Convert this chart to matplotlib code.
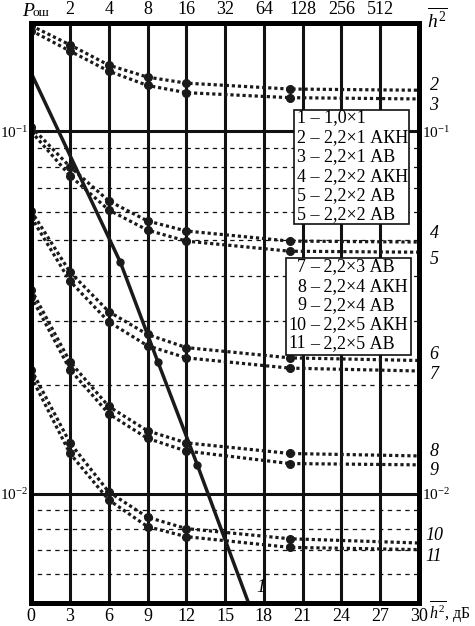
import matplotlib
matplotlib.use('Agg')
import matplotlib.pyplot as plt
from matplotlib.patches import Rectangle

plt.rcParams['font.family'] = ['Liberation Serif', 'DejaVu Serif']
plt.rcParams['mathtext.fontset'] = 'custom'
plt.rcParams['mathtext.rm'] = 'Liberation Serif'
plt.rcParams['mathtext.it'] = 'Liberation Serif:italic'

# ---------------- data ----------------
snr_db = [0, 3, 6, 9, 12, 20, 30]
c2 = [0.196, 0.1735, 0.1525, 0.1413, 0.136, 0.131, 0.130]
c3 = [0.190, 0.1668, 0.1468, 0.134, 0.128, 0.124, 0.123]
c4 = [0.103, 0.0799, 0.0643, 0.0566, 0.0531, 0.0498, 0.0495]
c5 = [0.100, 0.0755, 0.0607, 0.0534, 0.0498, 0.0467, 0.0464]
c6 = [0.0603, 0.0409, 0.0318, 0.0275, 0.0253, 0.0237, 0.0233]
c7 = [0.058, 0.0386, 0.0298, 0.0256, 0.0237, 0.0222, 0.0218]
c8 = [0.0366, 0.0231, 0.0174, 0.0149, 0.0138, 0.0129, 0.0127]
c9 = [0.035, 0.022, 0.0166, 0.0142, 0.0131, 0.0121, 0.0120]
c10 = [0.022, 0.0138, 0.0101, 0.0086, 0.0080, 0.0075, 0.0073]
c11 = [0.021, 0.0129, 0.0096, 0.0081, 0.0076, 0.0071, 0.0070]
curves = [c2, c3, c4, c5, c6, c7, c8, c9, c10, c11]

line1_db = [0, 6.9, 9.8, 12.85, 16.8]
line1_val = [0.145, 0.0435, 0.0231, 0.0120, 0.005]

x_ticks = [0, 3, 6, 9, 12, 15, 18, 21, 24, 27, 30]
top_ticks = [3, 6, 9, 12, 15, 18, 21, 24, 27]
top_labels = ['2', '4', '8', '16', '32', '64', '128', '256', '512']
y_major = [0.1, 0.01]
y_major_labels = [r'$10^{-1}$', r'$10^{-2}$']
y_minor = [0.006, 0.007, 0.008, 0.009, 0.02, 0.03, 0.04, 0.05, 0.06, 0.07, 0.08, 0.09]

legend1 = [('1', '– 1,0×1'), ('2', '– 2,2×1 АКН'), ('3', '– 2,2×1 АВ'),
           ('4', '– 2,2×2 АКН'), ('5', '– 2,2×2 АВ'), ('5', '– 2,2×2 АВ')]
legend2 = [('7', '– 2,2×3 АВ'), ('8', '– 2,2×4 АКН'), ('9', '– 2,2×4 АВ'),
           ('10', '– 2,2×5 АКН'), ('11', '– 2,2×5 АВ')]

curve_names = ['2', '3', '4', '5', '6', '7', '8', '9', '10', '11']
curve_label_y = [0.134, 0.118, 0.0521, 0.0444, 0.0242, 0.0213, 0.0131, 0.0116, 0.00764, 0.00668]

# ---------------- figure ----------------
W, H = 475, 626
fig = plt.figure(figsize=(W / 100, H / 100), dpi=100)
L, R, T, B = 31.2, 419.0, 22.5, 602.5
ax = fig.add_axes([L / W, 1 - B / H, (R - L) / W, (B - T) / H])
ax.set_yscale('log')
ax.set_xlim(0, 30)
ax.set_ylim(0.005, 0.2)

def px(x, y):
    return x / W, 1 - y / H

for s in ax.spines.values():
    s.set_linewidth(3.6)
    s.set_zorder(6)

# grid
for x in top_ticks:
    ax.axvline(x, color='#111111', lw=2.2, zorder=1)
for y in y_major:
    ax.axhline(y, color='#111111', lw=2.2, zorder=1)
for y in y_minor:
    ax.axhline(y, color='#111111', lw=0.9, ls=(2, (3.5, 3.5)), zorder=1)

# curves
for c in curves:
    ax.plot(snr_db, c, color='#1a1a1a', lw=2.3, ls=(0, (1, 0.9)),
            dash_capstyle='butt', marker='o', ms=5.5, markevery=[0, 1, 2, 3, 4, 5],
            zorder=3)
ax.plot(line1_db, line1_val, color='#1a1a1a', lw=2.5, marker='o', ms=5,
        markevery=[1, 2, 3], zorder=4)

# ticks
ax.set_xticks(x_ticks)
ax.set_xticklabels([str(v) for v in x_ticks])
ax.yaxis.set_minor_locator(matplotlib.ticker.NullLocator())
ax.set_yticks(y_major)
ax.set_yticklabels(y_major_labels)
ax.tick_params(axis='x', length=0, pad=4, labelsize=13)
ax.tick_params(axis='y', which='both', length=0, pad=2, labelsize=11,
               labelleft=True, labelright=True, right=False)

sec = ax.secondary_xaxis('top')
sec.set_xticks(top_ticks)
sec.set_xticklabels(top_labels)
sec.tick_params(length=0, pad=3, labelsize=13)
sec.spines['top'].set_visible(False)

# axis titles
fig.text(*px(28, 11), 'P', fontsize=14, style='italic', ha='center', va='center')
fig.text(*px(41, 13), 'ош', fontsize=9.5, ha='center', va='center')
fig.text(*px(437, 20), r'$\overline{h^2}$', fontsize=14, ha='center', va='center')
fig.text(*px(429, 612), r'$\overline{h^2}$, дБ', fontsize=11.5, ha='left', va='center')

# curve labels on the right
trans = matplotlib.transforms.blended_transform_factory(fig.transFigure, ax.transData)
for name, yv in zip(curve_names, curve_label_y):
    ax.text(434 / W, yv, name, transform=trans, fontsize=13, style='italic',
            ha='center', va='center', clip_on=False)
fig.text(*px(261, 587), '1', fontsize=13, style='italic', ha='center', va='center', zorder=7)

# legend boxes
def box(x0, y0, x1, y1):
    r = Rectangle(px(x0, y1), (x1 - x0) / W, (y1 - y0) / H, transform=fig.transFigure,
                  facecolor='white', edgecolor='#111111', lw=1.2, zorder=8)
    fig.add_artist(r)

box(294, 110, 409, 224)
ys1 = [118, 138, 157, 177, 196, 215]
for (n, t), y in zip(legend1, ys1):
    fig.text(*px(297, y), n + ' ' + t, fontsize=13, ha='left', va='center', zorder=9)

box(286, 258, 411, 355)
ys2 = [267, 287, 306, 325, 344]
for (n, t), y in zip(legend2, ys2):
    fig.text(*px(306, y), n, fontsize=13, ha='right', va='center', zorder=9)
    fig.text(*px(310, y), t, fontsize=13, ha='left', va='center', zorder=9)

fig.savefig('out.png', dpi=100)
